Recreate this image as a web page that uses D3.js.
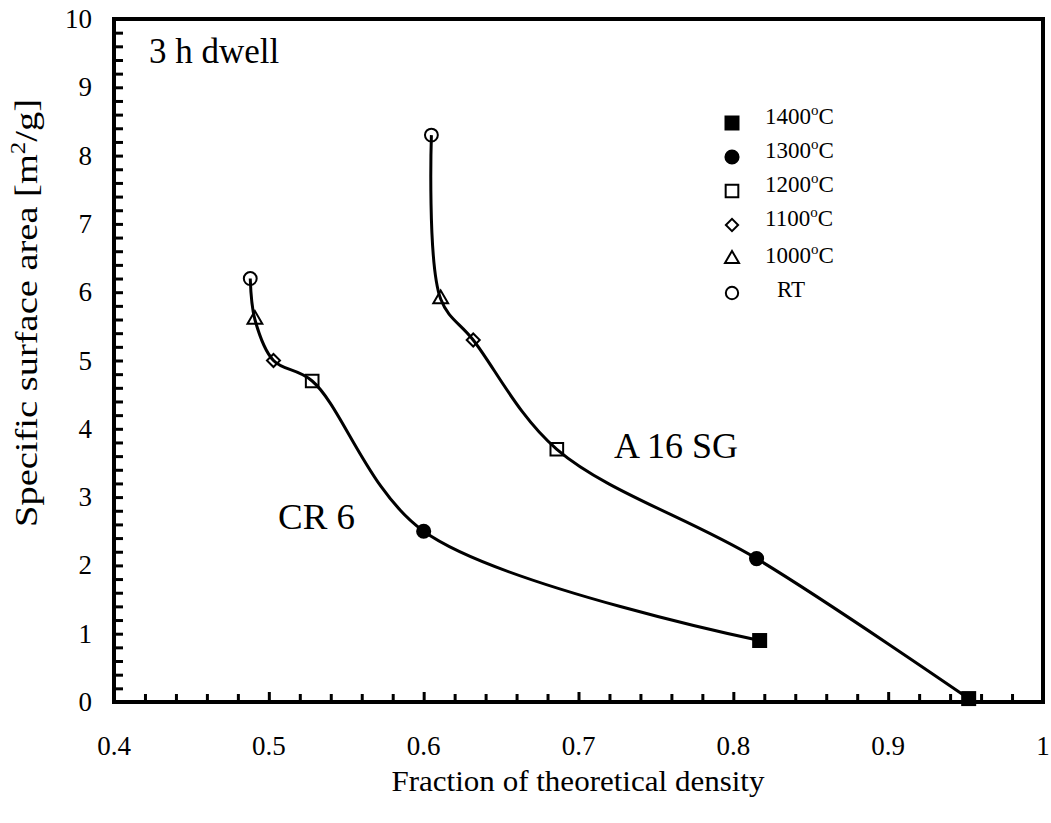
<!DOCTYPE html>
<html><head><meta charset="utf-8">
<script src="https://cdn.jsdelivr.net/npm/d3@7"></script>
<style>body{margin:0;background:#fff}svg{display:block}text{font-family:"Liberation Serif","Times New Roman",serif;fill:#000}</style>
</head><body><svg id="c" width="1051" height="823"></svg>
<script>
// ---- data ----
const stages = ["RT", "1000", "1100", "1200", "1300", "1400"];
const cr6Density = [0.488, 0.491, 0.503, 0.528, 0.600, 0.817];
const cr6Surface = [6.2, 5.6, 5.0, 4.7, 2.5, 0.9];
const a16Density = [0.605, 0.611, 0.632, 0.686, 0.815, 0.952];
const a16Surface = [8.3, 5.9, 5.3, 3.7, 2.1, 0.05];
const xTickValues = [0.4, 0.5, 0.6, 0.7, 0.8, 0.9, 1.0];
const xTickLabels = ["0.4", "0.5", "0.6", "0.7", "0.8", "0.9", "1"];
const yTickValues = [0,1,2,3,4,5,6,7,8,9,10];
const legendOrder = ["1400", "1300", "1200", "1100", "1000", "RT"];

const svg = d3.select("#c");
const x = d3.scaleLinear().domain([0.4, 1.0]).range([114, 1043]);
const y = d3.scaleLinear().domain([0, 10]).range([702, 19]);

// marker styles per stage
const sym = {
  "1400": {type: d3.symbolSquare, size: 225, fill: "#000", stroke: "none", rot: 0},
  "1300": {type: d3.symbolCircle, size: 180, fill: "#000", stroke: "none", rot: 0},
  "1200": {type: d3.symbolSquare, size: 160, fill: "none", stroke: "#000", rot: 0},
  "1100": {type: d3.symbolSquare, size: 85, fill: "none", stroke: "#000", rot: 45},
  "1000": {type: d3.symbolTriangle, size: 95, fill: "none", stroke: "#000", rot: 0},
  "RT":   {type: d3.symbolCircle, size: 130, fill: "none", stroke: "#000", rot: 0}
};

// minor ticks
const xMinor = d3.range(0, 31).map(i => 0.4 + i * 0.02);
const yMinor = d3.range(0, 51).map(i => i * 0.2);

const gx = svg.append("g").attr("transform", `translate(0,${y(0)})`);
gx.call(d3.axisBottom(x).tickValues(xMinor.filter(v => Math.abs(Math.round(v*10)/10 - v) > 1e-6)).tickSize(-8).tickFormat(""));
gx.select(".domain").remove();
const gx2 = svg.append("g").attr("transform", `translate(0,${y(0)})`);
gx2.call(d3.axisBottom(x).tickValues(xTickValues.slice(1, -1)).tickSize(-10).tickFormat(""));
gx2.select(".domain").remove();
svg.selectAll("g .tick line").attr("stroke-width", 3);

const gy = svg.append("g").attr("transform", `translate(${x(0.4)},0)`);
gy.call(d3.axisLeft(y).tickValues(yMinor.slice(1, -1)).tickSize(-9).tickFormat(""));
gy.select(".domain").remove();
gy.selectAll(".tick line").attr("stroke-width", 3);

// frame
svg.append("rect").attr("x", x(0.4)).attr("y", y(10)).attr("width", x(1) - x(0.4)).attr("height", y(0) - y(10))
  .attr("fill", "none").attr("stroke", "#000").attr("stroke-width", 4);

// tick labels
svg.append("g").selectAll("text").data(xTickValues).join("text")
  .attr("x", d => x(d)).attr("y", 755).attr("text-anchor", "middle").attr("font-size", 27)
  .text((d, i) => xTickLabels[i]);
svg.append("g").selectAll("text").data(yTickValues).join("text")
  .attr("x", 92).attr("y", d => y(d) + 9).attr("text-anchor", "end").attr("font-size", 27)
  .text(d => d);

// axis titles
svg.append("text").attr("x", 578).attr("y", 791).attr("text-anchor", "middle").attr("font-size", 29)
  .attr("textLength", 373).attr("lengthAdjust", "spacingAndGlyphs")
  .text("Fraction of theoretical density");
const yt = svg.append("text").attr("transform", "translate(37,313) rotate(-90)").attr("text-anchor", "middle").attr("font-size", 31)
  .attr("textLength", 428).attr("lengthAdjust", "spacingAndGlyphs");
yt.append("tspan").text("Specific surface area [m");
yt.append("tspan").attr("font-size", 20).attr("dy", -12).text("2");
yt.append("tspan").attr("dy", 12).text("/g]");

// curves
const line = d3.line().x(d => x(d[0])).y(d => y(d[1])).curve(d3.curveCatmullRom.alpha(0.5));
const series = [
  {dens: cr6Density, surf: cr6Surface},
  {dens: a16Density, surf: a16Surface}
];
series.forEach(s => {
  const pts = s.dens.map((d, i) => [d, s.surf[i], stages[i]]);
  svg.append("path").datum(pts).attr("d", line).attr("fill", "none").attr("stroke", "#000").attr("stroke-width", 3);
  svg.append("g").selectAll("path").data(pts).join("path")
    .attr("d", d => d3.symbol().type(sym[d[2]].type).size(sym[d[2]].size)())
    .attr("transform", d => `translate(${x(d[0])},${y(d[1])}) rotate(${sym[d[2]].rot})`)
    .attr("fill", d => sym[d[2]].fill).attr("stroke", d => sym[d[2]].stroke).attr("stroke-width", 2);
});

// labels
svg.append("text").attr("x", 149).attr("y", 63).attr("font-size", 35).text("3 h dwell");
svg.append("text").attr("x", 614).attr("y", 458).attr("font-size", 35)
  .attr("textLength", 124).attr("lengthAdjust", "spacingAndGlyphs").text("A 16 SG");
svg.append("text").attr("x", 278).attr("y", 529).attr("font-size", 35)
  .attr("textLength", 77).attr("lengthAdjust", "spacingAndGlyphs").text("CR 6");

// legend
const lg = svg.append("g");
legendOrder.forEach((k, i) => {
  const my = 123 + i * 34;
  const s = sym[k];
  const size = k === "RT" ? 120 : (k === "1000" ? 85 : (k === "1100" ? 75 : s.size));
  lg.append("path").attr("d", d3.symbol().type(s.type).size(size)())
    .attr("transform", `translate(732,${my}) rotate(${s.rot})`)
    .attr("fill", s.fill).attr("stroke", s.stroke).attr("stroke-width", 2);
  const t = lg.append("text").attr("x", k === "RT" ? 777 : 765).attr("y", my + 1 + (i > 3 ? 3 : 0)).attr("font-size", 23);
  if (k === "RT") { t.text("RT"); }
  else {
    t.append("tspan").text(k);
    t.append("tspan").attr("font-size", 15).attr("dy", -9).text("o");
    t.append("tspan").attr("dy", 9).text("C");
  }
});
</script></body></html>
